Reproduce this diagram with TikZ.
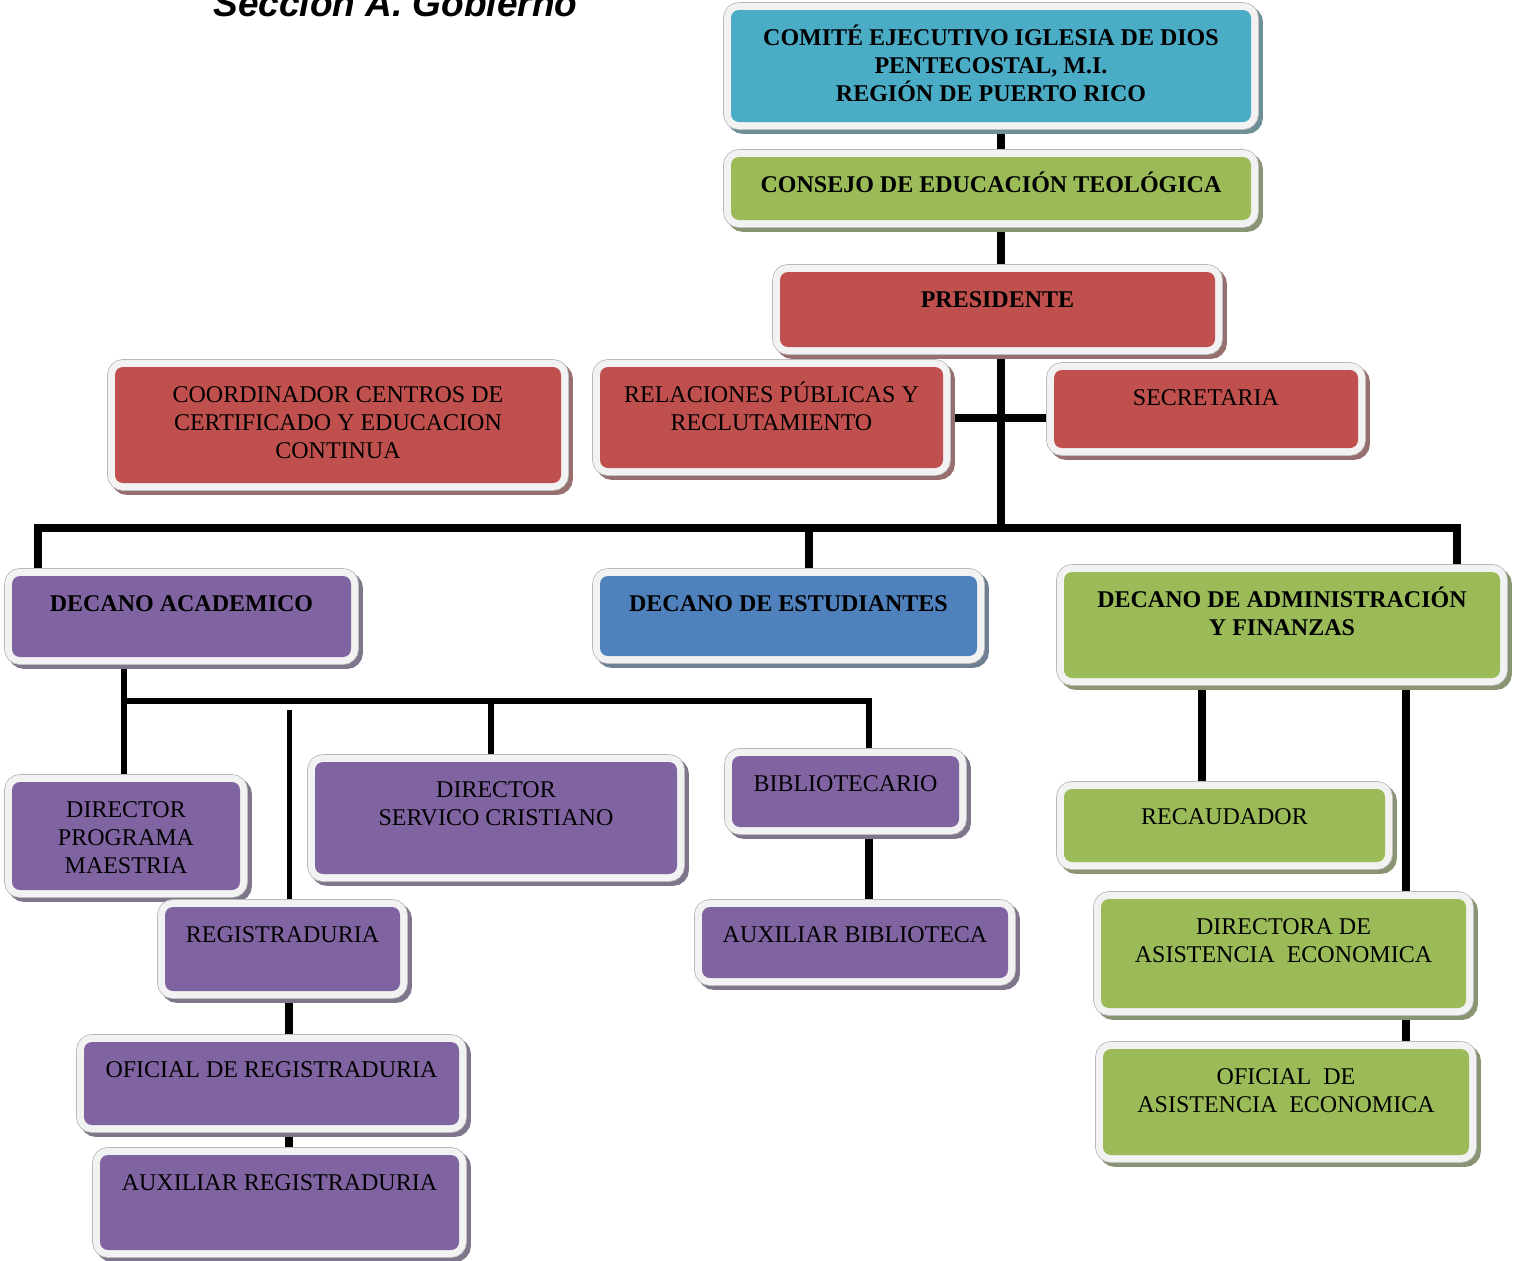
\documentclass[tikz,border=0pt]{standalone}
\usepackage{fontspec}
\setmainfont{Liberation Serif}
\newfontfamily\titlefont{Liberation Sans}
\usetikzlibrary{backgrounds}
\definecolor{cteal}{HTML}{4BACC6}
\definecolor{cgreen}{HTML}{9BBB59}
\definecolor{cred}{HTML}{C0504D}
\definecolor{cpurple}{HTML}{8064A2}
\definecolor{cblue}{HTML}{4F81BD}
\definecolor{boxborder}{HTML}{F2F2F2}
\tikzset{
  obox/.style={rectangle, rounded corners=4pt, inner sep=0pt, fill=#1,
    font=\fontsize{12}{14}\selectfont,
    preaction={fill=#1!35!gray, draw=#1!35!gray, line width=7.8pt,
      transform canvas={shift={(2pt,-2pt)}}},
    preaction={draw=gray!55, line width=7.8pt},
    preaction={draw=boxborder, line width=7pt}},
  conn/.style={line width=3.6pt},
  connmid/.style={line width=3.2pt},
  connthin/.style={line width=2.5pt}
}
\newcommand\orgbox[8]{%
  \node[obox=#6, minimum width={(#4-#2)*0.5pt}, minimum height={(#5-#3)*0.5pt}]
    (#1) at ({(#2+#4)/2},{(#3+#5)/2})
    {\parbox[c][\dimexpr(#5pt-#3pt)/2\relax][t]{\dimexpr(#4pt-#2pt)/2\relax}{\centering#7\rule{0pt}{17.75pt}#8\par}};}
\begin{document}
\begin{tikzpicture}[x=0.5pt,y=-0.5pt]
\useasboundingbox (0,0) rectangle (1517,1260);
\node[anchor=base west, inner sep=0pt, font=\titlefont\bfseries\itshape\fontsize{18.5}{20}\selectfont] (title) at (213,16) {Sección A. Gobierno};

\orgbox{com}{731}{10}{1251}{122}{cteal}{\bfseries}{COMITÉ EJECUTIVO IGLESIA DE DIOS\\PENTECOSTAL, M.I.\\REGIÓN DE PUERTO RICO}
\orgbox{con}{731}{157}{1251}{220}{cgreen}{\bfseries}{CONSEJO DE EDUCACIÓN TEOLÓGICA}
\orgbox{pres}{780}{272}{1215}{347}{cred}{\bfseries}{PRESIDENTE}
\orgbox{coord}{115}{367}{561}{483}{cred}{}{COORDINADOR CENTROS DE\\CERTIFICADO Y EDUCACION\\CONTINUA}
\orgbox{rel}{600}{367}{943}{468}{cred}{}{RELACIONES PÚBLICAS Y\\RECLUTAMIENTO}
\orgbox{sec}{1054}{370}{1358}{448}{cred}{}{SECRETARIA}
\orgbox{dac}{12}{576}{351}{657}{cpurple}{\bfseries}{DECANO ACADEMICO}
\orgbox{dest}{600}{576}{977}{656}{cblue}{\bfseries}{DECANO DE ESTUDIANTES}
\orgbox{dadm}{1064}{572}{1500}{678}{cgreen}{\bfseries}{DECANO DE ADMINISTRACIÓN\\Y FINANZAS}
\orgbox{dpm}{12}{782}{240}{890}{cpurple}{}{DIRECTOR\\PROGRAMA\\MAESTRIA}
\orgbox{dsc}{315}{762}{677}{874}{cpurple}{}{DIRECTOR\\SERVICO CRISTIANO}
\orgbox{bib}{732}{756}{959}{827}{cpurple}{}{BIBLIOTECARIO}
\orgbox{auxb}{702}{907}{1008}{978}{cpurple}{}{AUXILIAR BIBLIOTECA}
\orgbox{reg}{165}{907}{400}{991}{cpurple}{}{REGISTRADURIA}
\orgbox{ofr}{84}{1042}{459}{1125}{cpurple}{}{OFICIAL DE REGISTRADURIA}
\orgbox{auxr}{100}{1155}{459}{1250}{cpurple}{}{AUXILIAR REGISTRADURIA}
\orgbox{rec}{1064}{789}{1385}{862}{cgreen}{}{RECAUDADOR}
\orgbox{dir}{1101}{899}{1466}{1008}{cgreen}{}{DIRECTORA DE\\ASISTENCIA\ \ ECONOMICA}
\orgbox{ofa}{1103}{1049}{1469}{1155}{cgreen}{}{OFICIAL\ \ DE\\ASISTENCIA\ \ ECONOMICA}

\coordinate (tk) at (1001,0);
\coordinate (hbm) at (1001,528);
\coordinate (hbl) at (38,528);
\coordinate (hbr) at (1457,528);
\coordinate (dsx) at (809,528);
\coordinate (cr) at (0,418);
\coordinate (a1) at (124,701);
\coordinate (a2) at (869,701);
\coordinate (a3) at (491,701);
\coordinate (t1) at (289,710);
\coordinate (f1) at (1202,0);
\coordinate (f2) at (1406,0);

\begin{scope}[on background layer]
\draw[conn] (com.south -| tk) -- (con.north -| tk);
\draw[conn] (con.south -| tk) -- (pres.north -| tk);
\draw[conn] (pres.south -| tk) -- (hbm);
\draw[conn] (rel.east |- cr) -- (sec.west |- cr);
\draw[conn] (dac.north -| hbl) |- (hbr) -- (dadm.north -| hbr);
\draw[conn] (dsx) -- (dest.north -| dsx);
\draw[connmid] (dac.south -| a1) -- (dpm.north -| a1);
\draw[connmid] (a1) -- (a2) -- (bib.north -| a2);
\draw[connmid] (a3) -- (dsc.north -| a3);
\draw[connthin] (t1) -- (reg.north -| t1);
\draw[conn] (bib.south -| a2) -- (auxb.north -| a2);
\draw[conn] (reg.south -| t1) -- (ofr.north -| t1);
\draw[conn] (ofr.south -| t1) -- (auxr.north -| t1);
\draw[conn] (dadm.south -| f1) -- (rec.north -| f1);
\draw[conn] (dadm.south -| f2) -- (dir.north -| f2);
\draw[conn] (dir.south -| f2) -- (ofa.north -| f2);
\end{scope}
\end{tikzpicture}
\end{document}
